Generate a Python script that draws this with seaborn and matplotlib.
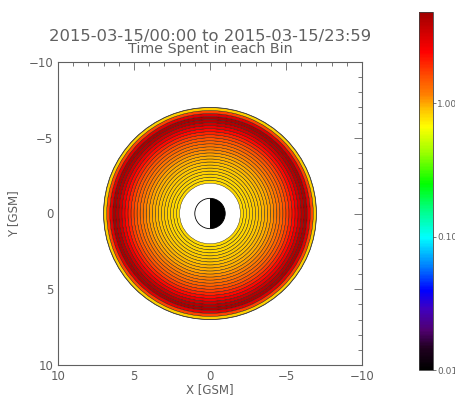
import numpy as np
import matplotlib
matplotlib.use("Agg")
import matplotlib.pyplot as plt
import seaborn as sns
from matplotlib.colors import LinearSegmentedColormap, LogNorm
from matplotlib.patches import Wedge, Circle
from matplotlib.collections import PatchCollection
from matplotlib.ticker import MultipleLocator, FixedLocator, FixedFormatter

# --- data: time spent in each radial bin (hours) ---
ring_inner = [2.0, 2.2, 2.4, 2.6, 2.8, 3.0, 3.2, 3.4, 3.6, 3.8, 4.0, 4.2, 4.4,
              4.6, 4.8, 5.0, 5.2, 5.4, 5.6, 5.8, 6.0, 6.2, 6.4, 6.6, 6.8]
ring_width = 0.2
time_spent = [0.80, 0.81, 0.82, 0.84, 0.86, 0.88, 0.91, 0.94, 0.98, 1.03,
              1.10, 1.18, 1.28, 1.40, 1.55, 1.75, 2.00, 2.30, 2.80, 3.50,
              4.20, 4.50, 3.00, 1.70, 0.85]
cbar_ticks = [0.01, 0.10, 1.00]
cbar_labels = ["0.01", "0.10", "1.00"]
vmin, vmax = 0.01, 4.86
title_1 = "2015-03-15/00:00 to 2015-03-15/23:59"
title_2 = "Time Spent in each Bin"

# IDL style rainbow (black -> purple -> blue -> cyan -> green -> yellow -> red)
cmap = LinearSegmentedColormap.from_list("idl_rainbow", [
    (0.00, "#000000"), (0.06, "#200020"), (0.11, "#500070"), (0.17, "#4000c0"),
    (0.22, "#0000ff"), (0.29, "#0080ff"), (0.37, "#00ffff"), (0.45, "#00ff80"),
    (0.52, "#00ff00"), (0.61, "#a0ff00"), (0.68, "#ffff00"), (0.73, "#ffc000"),
    (0.77, "#ff8000"), (0.82, "#ff5000"), (0.89, "#ff0000"), (1.00, "#a00000"),
])

sns.set_style("white")
grey = "#606060"
plt.rcParams["font.family"] = ["DejaVu Sans"]

fig = plt.figure(figsize=(4.56, 3.96), dpi=100)
ax = fig.add_axes([58 / 456, 31 / 396, 304 / 456, 303 / 396])
cax = fig.add_axes([419 / 456, 26 / 396, 14 / 456, 358 / 396])

norm = LogNorm(vmin=vmin, vmax=vmax)
rings = [Wedge((0, 0), r + ring_width, 0, 360, width=ring_width) for r in ring_inner]
coll = PatchCollection(rings, cmap=cmap, norm=norm, edgecolor="#202020", linewidth=0.3)
coll.set_array(np.array(time_spent))
ax.add_collection(coll)
ax.add_patch(Circle((0, 0), ring_inner[-1] + ring_width, fill=False, edgecolor="#404040", linewidth=0.6))

# Earth: day side white (+X, left), night side black
ax.add_patch(Wedge((0, 0), 1.0, 90, 270, facecolor="black", edgecolor="none"))
ax.add_patch(Circle((0, 0), 1.0, fill=False, edgecolor="black", linewidth=0.6))

ax.set_xlim(10, -10)
ax.set_ylim(10, -10)
ax.set_aspect("auto")
ax.xaxis.set_major_locator(MultipleLocator(5))
ax.xaxis.set_minor_locator(MultipleLocator(1))
ax.yaxis.set_major_locator(MultipleLocator(5))
ax.yaxis.set_minor_locator(MultipleLocator(1))
ax.tick_params(which="both", direction="in", top=True, right=True, color=grey,
               labelcolor=grey, labelsize=8.5, width=0.6)
ax.tick_params(which="major", length=6)
ax.tick_params(which="minor", length=3)
ax.xaxis.set_major_formatter(plt.FuncFormatter(lambda v, p: f"{int(v)}".replace("-", "\u2212")))
ax.yaxis.set_major_formatter(plt.FuncFormatter(lambda v, p: f"{int(v)}".replace("-", "\u2212")))
for s in ax.spines.values():
    s.set_color(grey)
    s.set_linewidth(0.8)
ax.set_xlabel("X [GSM]", color=grey, fontsize=8.5, labelpad=0)
ax.set_ylabel("Y [GSM]", color=grey, fontsize=8.5, labelpad=6)

fig.text(210 / 456, 1 - 36 / 396, title_1, ha="center", va="center", color=grey, fontsize=11.8)
fig.text(210 / 456, 1 - 49 / 396, title_2, ha="center", va="center", color=grey, fontsize=10.3)

cb = fig.colorbar(coll, cax=cax)
cb.ax.yaxis.set_major_locator(FixedLocator(cbar_ticks))
cb.ax.yaxis.set_major_formatter(FixedFormatter(cbar_labels))
cb.ax.yaxis.set_minor_locator(FixedLocator([]))
cb.ax.tick_params(color=grey, labelcolor=grey, labelsize=6.5, length=2, width=0.6, pad=1)
cb.outline.set_edgecolor("#404040")
cb.outline.set_linewidth(0.6)

fig.savefig("out.png", dpi=100)
